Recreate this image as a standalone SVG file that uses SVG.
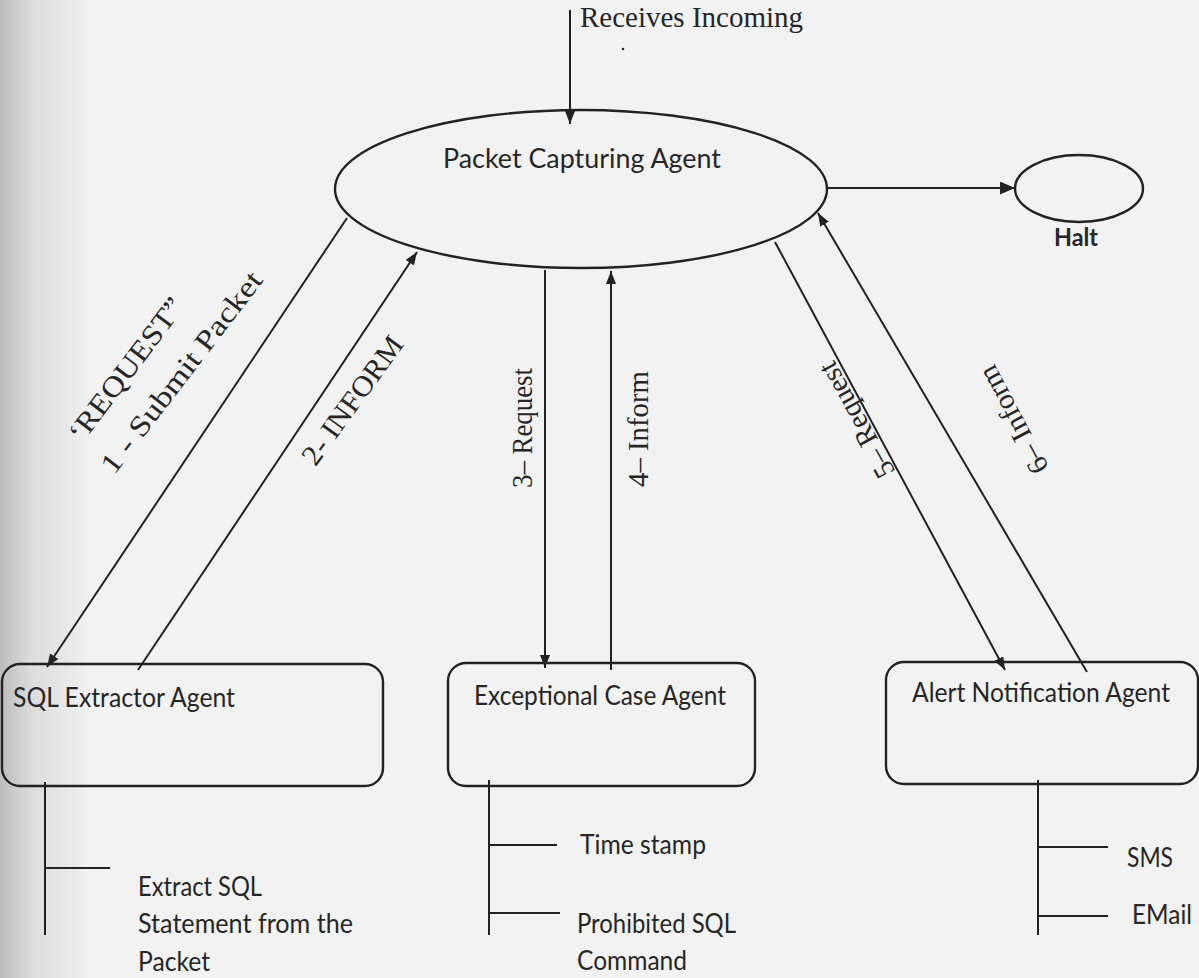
<svg xmlns="http://www.w3.org/2000/svg" width="1199" height="978" viewBox="0 0 1199 978">
  <defs>
    <linearGradient id="pageShade" x1="0" y1="0" x2="1" y2="0">
      <stop offset="0" stop-color="#bdbdbd"/>
      <stop offset="0.35" stop-color="#dcdcdc"/>
      <stop offset="1" stop-color="#f1f1f1"/>
    </linearGradient>
    <marker id="arrow" viewBox="0 0 13 10" refX="13" refY="5" markerWidth="13" markerHeight="10" markerUnits="userSpaceOnUse" orient="auto">
      <path d="M0,0 L13,5 L0,10 Z" fill="#222"/>
    </marker>
    <marker id="arrowBig" viewBox="0 0 15 13" refX="15" refY="6.5" markerWidth="15" markerHeight="13" markerUnits="userSpaceOnUse" orient="auto">
      <path d="M0,0 L15,6.5 L0,13 Z" fill="#222"/>
    </marker>
  </defs>
  <style>
    .line { stroke: #222; stroke-width: 2; fill: none; }
    .node { stroke: #222; stroke-width: 2.4; fill: none; }
    .sans { font-family: Lato, "Open Sans", "Liberation Sans", sans-serif; font-size: 27px; fill: #262626; }
    .serif { font-family: "Liberation Serif", "DejaVu Serif", serif; font-size: 29px; fill: #262626; }
    .bold { font-weight: bold; font-size: 24px; }
  </style>

  <!-- paper -->
  <rect x="0" y="0" width="1199" height="978" fill="#f2f2f2"/>
  <rect x="0" y="0" width="90" height="978" fill="url(#pageShade)"/>

  <!-- message connectors -->
  <g id="connectors">
    <path class="line" d="M570 10 L570 124" marker-end="url(#arrow)"/>
    <path class="line" d="M827 188 L1015 188" stroke-width="3" marker-end="url(#arrowBig)"/>
    <path class="line" d="M347 218 L47 667" marker-end="url(#arrow)"/>
    <path class="line" d="M138 670 L417 252" marker-end="url(#arrow)"/>
    <path class="line" d="M545 270 L545 668" marker-end="url(#arrow)"/>
    <path class="line" d="M611 670 L611 271" marker-end="url(#arrow)"/>
    <path class="line" d="M775 242 L1005 670" marker-end="url(#arrow)"/>
    <path class="line" d="M1087 672 L818 213" marker-end="url(#arrow)"/>
  </g>

  <!-- connector labels -->
  <g id="labels">
    <text class="serif" x="580" y="27" textLength="223" lengthAdjust="spacingAndGlyphs">Receives Incoming</text>
    <circle cx="623" cy="49" r="1.3" fill="#262626"/>
    <text class="serif" transform="translate(126 369) rotate(-53)" text-anchor="middle" dominant-baseline="central" textLength="172" lengthAdjust="spacingAndGlyphs">‘REQUEST”</text>
    <text class="serif" transform="translate(181 372) rotate(-52.5)" text-anchor="middle" dominant-baseline="central" textLength="246" lengthAdjust="spacingAndGlyphs">1 - Submit Packet</text>
    <text class="serif" transform="translate(352 400) rotate(-54)" text-anchor="middle" dominant-baseline="central" textLength="152" lengthAdjust="spacingAndGlyphs">2- INFORM</text>
    <text class="serif" transform="translate(522 428) rotate(-90)" text-anchor="middle" dominant-baseline="central" textLength="120" lengthAdjust="spacingAndGlyphs">3– Request</text>
    <text class="serif" transform="translate(638 429) rotate(-90)" text-anchor="middle" dominant-baseline="central" textLength="116" lengthAdjust="spacingAndGlyphs">4– Inform</text>
    <text class="serif" transform="translate(856 420) rotate(-119)" text-anchor="middle" dominant-baseline="central" textLength="128" lengthAdjust="spacingAndGlyphs">5– Request</text>
    <text class="serif" transform="translate(1013 420) rotate(-118)" text-anchor="middle" dominant-baseline="central" textLength="118" lengthAdjust="spacingAndGlyphs">6– Inform</text>
  </g>

  <g id="packet-capturing-agent">
    <ellipse class="node" cx="581" cy="189" rx="246" ry="79" stroke-width="2"/>
    <text class="sans" x="443" y="168" textLength="278" lengthAdjust="spacingAndGlyphs">Packet Capturing Agent</text>
  </g>

  <g id="halt">
    <ellipse class="node" cx="1079" cy="188.5" rx="64" ry="33.5" stroke-width="2"/>
    <text class="sans bold" x="1054" y="246" textLength="44" lengthAdjust="spacingAndGlyphs">Halt</text>
  </g>

  <g id="sql-extractor-agent">
    <rect class="node" x="2" y="664" width="381" height="122" rx="18"/>
    <text class="sans" x="13" y="707" textLength="222" lengthAdjust="spacingAndGlyphs">SQL Extractor Agent</text>
    <path class="line" d="M45 782 V935 M45 868 H110" stroke-width="2.4"/>
    <text class="sans" x="138" y="896" textLength="124" lengthAdjust="spacingAndGlyphs">Extract SQL</text>
    <text class="sans" x="138" y="933" textLength="215" lengthAdjust="spacingAndGlyphs">Statement from the</text>
    <text class="sans" x="138" y="971" textLength="72" lengthAdjust="spacingAndGlyphs">Packet</text>
  </g>

  <g id="exceptional-case-agent">
    <rect class="node" x="448" y="663" width="307" height="123" rx="18"/>
    <text class="sans" x="474" y="705" textLength="252" lengthAdjust="spacingAndGlyphs">Exceptional Case Agent</text>
    <path class="line" d="M489 780 V935 M489 845 H557 M489 913 H560" stroke-width="2.4"/>
    <text class="sans" x="580" y="854" textLength="126" lengthAdjust="spacingAndGlyphs">Time stamp</text>
    <text class="sans" x="577" y="933" textLength="159" lengthAdjust="spacingAndGlyphs">Prohibited SQL</text>
    <text class="sans" x="577" y="970" textLength="110" lengthAdjust="spacingAndGlyphs">Command</text>
  </g>

  <g id="alert-notification-agent">
    <rect class="node" x="886" y="662" width="312" height="122" rx="18"/>
    <text class="sans" x="912" y="702" textLength="258" lengthAdjust="spacingAndGlyphs">Alert Notification Agent</text>
    <path class="line" d="M1038 780 V935 M1038 847 H1108 M1038 916 H1108" stroke-width="2.4"/>
    <text class="sans" x="1127" y="867" textLength="46" lengthAdjust="spacingAndGlyphs">SMS</text>
    <text class="sans" x="1132" y="924" textLength="60" lengthAdjust="spacingAndGlyphs">EMail</text>
  </g>
</svg>
